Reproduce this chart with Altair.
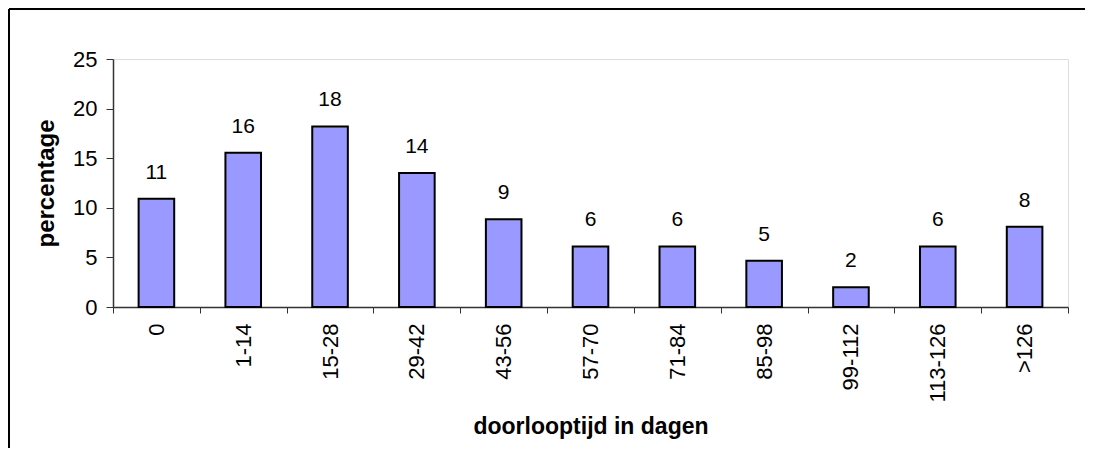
import altair as alt
import pandas as pd

categories = ["0", "1-14", "15-28", "29-42", "43-56", "57-70", "71-84",
              "85-98", "99-112", "113-126", ">126"]
values = [10.9, 15.55, 18.2, 13.5, 8.85, 6.1, 6.1, 4.65, 2.0, 6.1, 8.1]

df = pd.DataFrame({"cat": categories, "val": values})

FONT = "Liberation Sans"

x_enc = alt.X(
    "cat:N",
    sort=categories,
    scale=alt.Scale(paddingInner=0, paddingOuter=0),
    axis=alt.Axis(
        title="doorlooptijd in dagen",
        labelAngle=270,
        labelFont=FONT,
        labelFontSize=22,
        labelColor="black",
        labelPadding=10,
        tickSize=6,
        tickColor="#333333",
        tickBand="extent",
        domainColor="#333333",
        domainWidth=1.5,
        titleFont=FONT,
        titleFontSize=23,
        titleFontWeight="bold",
        titleColor="black",
        titleBaseline="alphabetic",
        titleY=126,
    ),
)
y_enc = alt.Y(
    "val:Q",
    scale=alt.Scale(domain=[0, 25], nice=False),
    axis=alt.Axis(
        title="percentage",
        values=[0, 5, 10, 15, 20, 25],
        grid=False,
        labelFont=FONT,
        labelFontSize=22,
        labelColor="black",
        labelPadding=9,
        tickSize=7,
        tickColor="#333333",
        domainColor="#333333",
        domainWidth=1.5,
        titleFont=FONT,
        titleFontSize=24,
        titleFontWeight="bold",
        titleColor="black",
        titleAngle=270,
        titleAlign="center",
        titleBaseline="middle",
        titleX=-67,
        titleY=124,
    ),
)

bars = alt.Chart(df).mark_bar(
    color="#9999FF", stroke="black", strokeWidth=2,
    width=alt.RelativeBandSize(0.41),
).encode(x=x_enc, y=y_enc)

labels = alt.Chart(df).mark_text(
    font=FONT, fontSize=21, color="black", baseline="alphabetic", dy=-20,
).encode(
    x=alt.X("cat:N", sort=categories),
    y=alt.Y("val:Q"),
    text=alt.Text("val:Q", format=".0f"),
)

frame_top = alt.Chart(df).mark_rule(
    color="black", strokeWidth=2, clip=False,
).encode(
    x=alt.value(-104), x2=alt.value(1400),
    y=alt.value(-50), y2=alt.value(-50),
)
frame_left = alt.Chart(df).mark_rule(
    color="black", strokeWidth=2, clip=False,
).encode(
    x=alt.value(-104), x2=alt.value(-104),
    y=alt.value(-50), y2=alt.value(700),
)

chart = alt.layer(frame_top, frame_left, bars, labels).properties(
    width=955,
    height=248,
    autosize=alt.AutoSizeParams(type="none"),
    padding={"left": 105, "top": 51, "right": 17, "bottom": 141},
).configure_view(
    stroke="#808080", strokeWidth=2,
).configure(background="white")

chart.save("out.html", embed_options={"renderer": "svg", "actions": False})
